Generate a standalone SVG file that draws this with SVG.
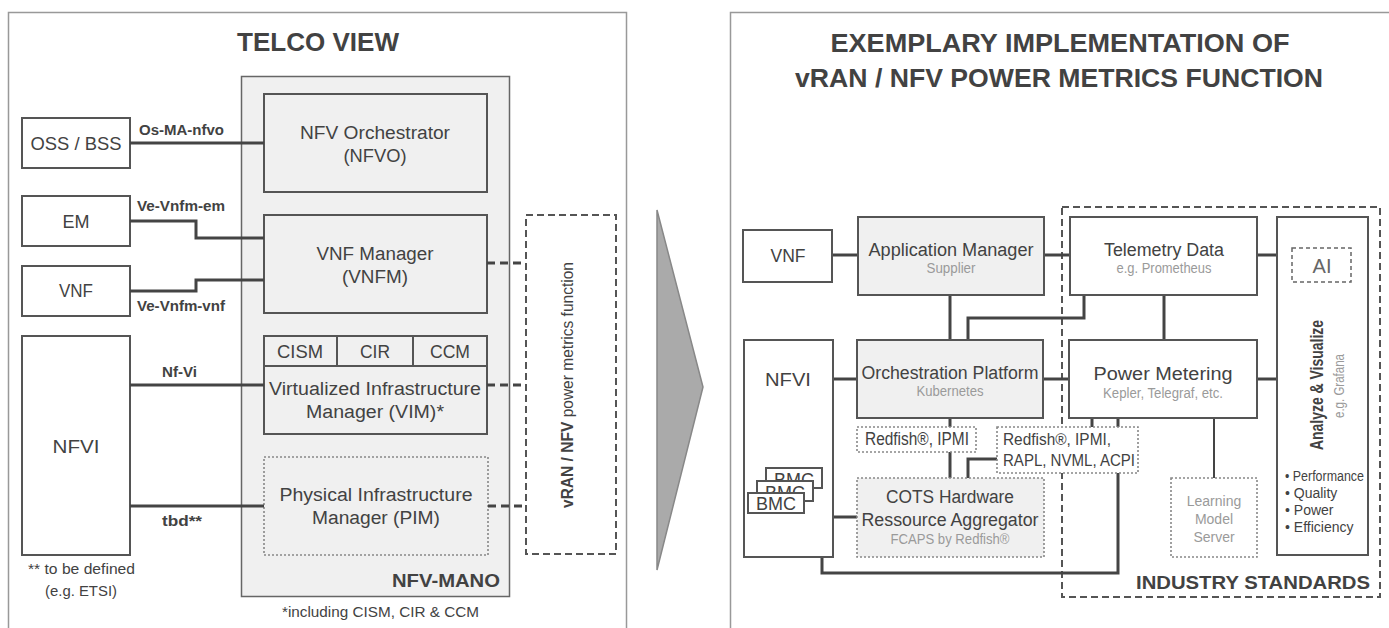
<svg xmlns="http://www.w3.org/2000/svg" width="1389" height="628" viewBox="0 0 1389 628">
<style>
text{font-family:"Liberation Sans","DejaVu Sans",sans-serif;fill:#424242}
.b{font-weight:bold}
.t{font-size:18px;text-anchor:middle}
.s{font-size:14px;text-anchor:middle;fill:#9a9a9a}
.lbl{font-size:14px;font-weight:bold}
.box{fill:#fff;stroke:#555;stroke-width:2}
.gbox{fill:#f0f0f0;stroke:#555;stroke-width:2}
.dot{fill:#fff;stroke:#888;stroke-width:1.6;stroke-dasharray:2 2}
.gdot{fill:#f0f0f0;stroke:#888;stroke-width:1.6;stroke-dasharray:2 2}
.dash{fill:none;stroke:#555;stroke-width:2;stroke-dasharray:7 4}
.panel{fill:#fff;stroke:#999;stroke-width:1.5}
.c{fill:none;stroke:#444;stroke-width:3}
.cd{fill:none;stroke:#444;stroke-width:3;stroke-dasharray:8 5}
.cs{fill:none;stroke:#444;stroke-width:2}
</style>
<defs>
<clipPath id="clipBack"><rect x="766" y="468" width="56" height="13"/></clipPath>
<clipPath id="clipMid"><rect x="757" y="481" width="56" height="12"/></clipPath>
</defs>
<rect width="1389" height="628" fill="#fff"/>
<!-- LEFT PANEL -->
<g id="left-panel">
<rect class="panel" x="8.5" y="12.5" width="618" height="640"/>
<text class="b" x="318" y="51" font-size="26" text-anchor="middle" textLength="162" lengthAdjust="spacingAndGlyphs">TELCO VIEW</text>
</g>
<g id="nfv-mano">
<rect x="241.5" y="76.5" width="268" height="520" fill="#f0f0f0" stroke="#666" stroke-width="1.5"/>
<text class="b" x="500" y="587" font-size="18" text-anchor="end" textLength="108" lengthAdjust="spacingAndGlyphs">NFV-MANO</text>
</g>
<g id="nfvo">
<rect class="gbox" x="264" y="94" width="223" height="98"/>
<text class="t" x="375" y="139" textLength="150" lengthAdjust="spacingAndGlyphs">NFV Orchestrator</text>
<text class="t" x="375" y="162" textLength="63" lengthAdjust="spacingAndGlyphs">(NFVO)</text>
</g>
<g id="vnfm">
<rect class="gbox" x="264" y="215" width="223" height="98"/>
<text class="t" x="375" y="260" textLength="117" lengthAdjust="spacingAndGlyphs">VNF Manager</text>
<text class="t" x="375" y="283" textLength="66" lengthAdjust="spacingAndGlyphs">(VNFM)</text>
</g>
<g id="vim">
<rect class="gbox" x="264" y="336" width="223" height="98"/>
<line x1="264" y1="366" x2="487" y2="366" stroke="#555" stroke-width="2"/>
<line x1="337" y1="336" x2="337" y2="366" stroke="#555" stroke-width="2"/>
<line x1="413" y1="336" x2="413" y2="366" stroke="#555" stroke-width="2"/>
<text class="t" x="300" y="358" textLength="46" lengthAdjust="spacingAndGlyphs">CISM</text>
<text class="t" x="375" y="358" textLength="30" lengthAdjust="spacingAndGlyphs">CIR</text>
<text class="t" x="450" y="358" textLength="40" lengthAdjust="spacingAndGlyphs">CCM</text>
<text class="t" x="375" y="395" textLength="212" lengthAdjust="spacingAndGlyphs">Virtualized Infrastructure</text>
<text class="t" x="375" y="418" textLength="138" lengthAdjust="spacingAndGlyphs">Manager (VIM)*</text>
</g>
<g id="pim">
<rect class="gdot" x="264" y="457" width="224" height="98"/>
<text class="t" x="376" y="501" textLength="193" lengthAdjust="spacingAndGlyphs">Physical Infrastructure</text>
<text class="t" x="376" y="524" textLength="128" lengthAdjust="spacingAndGlyphs">Manager (PIM)</text>
</g>
<g id="oss-bss">
<rect class="box" x="22" y="118" width="108" height="50"/>
<text class="t" x="76" y="150" textLength="91" lengthAdjust="spacingAndGlyphs">OSS / BSS</text>
</g>
<g id="em">
<rect class="box" x="22" y="196" width="108" height="50"/>
<text class="t" x="76" y="228" textLength="27" lengthAdjust="spacingAndGlyphs">EM</text>
</g>
<g id="vnf-left">
<rect class="box" x="22" y="266" width="108" height="50"/>
<text class="t" x="76" y="297" textLength="34" lengthAdjust="spacingAndGlyphs">VNF</text>
</g>
<g id="nfvi-left">
<rect class="box" x="22" y="336" width="108" height="219"/>
<text class="t" x="76" y="453" textLength="47" lengthAdjust="spacingAndGlyphs">NFVI</text>
</g>
<g id="power-metrics-function">
<rect class="dash" x="526" y="215" width="90" height="339"/>
<text transform="translate(573 385) rotate(-90)" font-size="17" text-anchor="middle" textLength="246" lengthAdjust="spacingAndGlyphs"><tspan class="b">vRAN / NFV</tspan> power metrics function</text>
</g>
<g id="left-notes">
<text x="28" y="574" font-size="14" textLength="107" lengthAdjust="spacingAndGlyphs">** to be defined</text>
<text x="45" y="596" font-size="14" textLength="72" lengthAdjust="spacingAndGlyphs">(e.g. ETSI)</text>
<text x="282" y="617" font-size="15" textLength="197" lengthAdjust="spacingAndGlyphs">*including CISM, CIR &amp; CCM</text>
</g>
<g id="left-connectors">
<path class="c" d="M130 143H264"/>
<path class="c" d="M130 221H196V238H264"/>
<path class="c" d="M130 291H196V280H264"/>
<path class="c" d="M130 385H264"/>
<path class="c" d="M130 506H264"/>
<path class="cd" d="M487 263H526"/>
<path class="cd" d="M487 385H526"/>
<path class="cd" d="M488 506H526"/>
<text class="lbl" x="139" y="135" textLength="85" lengthAdjust="spacingAndGlyphs">Os-MA-nfvo</text>
<text class="lbl" x="137" y="211" textLength="88" lengthAdjust="spacingAndGlyphs">Ve-Vnfm-em</text>
<text class="lbl" x="137" y="311" textLength="88" lengthAdjust="spacingAndGlyphs">Ve-Vnfm-vnf</text>
<text class="lbl" x="162" y="377" textLength="35" lengthAdjust="spacingAndGlyphs">Nf-Vi</text>
<text class="lbl" x="162" y="526" textLength="40" lengthAdjust="spacingAndGlyphs">tbd**</text>
</g>
<!-- ARROW -->
<g id="transition-arrow">
<polygon points="657,210 703,387 657,570" fill="#aaa" stroke="#888" stroke-width="1.5"/>
</g>
<!-- RIGHT PANEL -->
<g id="right-panel">
<rect class="panel" x="730.5" y="12.5" width="700" height="640"/>
<text class="b" x="1060" y="52" font-size="26" text-anchor="middle" textLength="459" lengthAdjust="spacingAndGlyphs">EXEMPLARY IMPLEMENTATION OF</text>
<text class="b" x="1059" y="87" font-size="26" text-anchor="middle" textLength="528" lengthAdjust="spacingAndGlyphs">vRAN / NFV POWER METRICS FUNCTION</text>
</g>
<g id="industry-standards">
<rect class="dash" x="1062" y="207" width="318" height="390"/>
<text class="b" x="1370" y="589" font-size="19" text-anchor="end" textLength="234" lengthAdjust="spacingAndGlyphs">INDUSTRY STANDARDS</text>
</g>
<g id="right-connectors">
<path class="c" d="M832 255H858"/>
<path class="c" d="M1044 255H1070"/>
<path class="c" d="M1257 255H1277"/>
<path class="c" d="M950 295V340"/>
<path class="c" d="M1084 295V318H968V340"/>
<path class="c" d="M1164 295V340"/>
<path class="c" d="M833 379H857"/>
<path class="c" d="M1043 379H1069"/>
<path class="c" d="M1257 379H1277"/>
<path class="c" d="M950 418V427M950 452V478"/>
<path class="c" d="M968 478V459H997"/>
<path class="c" d="M1092 418V427M1118 418V427"/>
<path class="c" d="M1118 473V573H822V486"/>
<path class="cs" d="M1214 418V478"/>
<path class="cs" d="M804 500L823 517M813 489L823 512"/>
<path class="c" d="M822 517H857"/>
</g>
<g id="vnf-right">
<rect class="box" x="743" y="230" width="89" height="52"/>
<text class="t" x="788" y="262" font-size="19" textLength="35" lengthAdjust="spacingAndGlyphs">VNF</text>
</g>
<g id="application-manager">
<rect class="gbox" x="858" y="217" width="186" height="78"/>
<text class="t" x="951" y="256" font-size="19" textLength="165" lengthAdjust="spacingAndGlyphs">Application Manager</text>
<text class="s" x="951" y="273" font-size="13" textLength="49" lengthAdjust="spacingAndGlyphs">Supplier</text>
</g>
<g id="telemetry-data">
<rect class="box" x="1070" y="217" width="187" height="78"/>
<text class="t" x="1164" y="256" font-size="19" textLength="120" lengthAdjust="spacingAndGlyphs">Telemetry Data</text>
<text class="s" x="1164" y="273" font-size="13" textLength="95" lengthAdjust="spacingAndGlyphs">e.g. Prometheus</text>
</g>
<g id="analyze-visualize">
<rect class="box" x="1277" y="217" width="91" height="338"/>
<rect x="1292" y="248" width="59" height="34" fill="#fff" stroke="#666" stroke-width="1.5" stroke-dasharray="4 3"/>
<text x="1322" y="273" font-size="20" text-anchor="middle" style="fill:#666">AI</text>
<text class="b" transform="translate(1323 385) rotate(-90)" font-size="19" text-anchor="middle" textLength="130" lengthAdjust="spacingAndGlyphs">Analyze &amp; Visualize</text>
<text transform="translate(1344 386) rotate(-90)" font-size="14" text-anchor="middle" style="fill:#9a9a9a" textLength="64" lengthAdjust="spacingAndGlyphs">e.g. Grafana</text>
<text x="1285" y="481" font-size="14" textLength="79" lengthAdjust="spacingAndGlyphs">• Performance</text>
<text x="1285" y="498" font-size="14">• Quality</text>
<text x="1285" y="515" font-size="14">• Power</text>
<text x="1285" y="532" font-size="14">• Efficiency</text>
</g>
<g id="nfvi-right">
<rect class="box" x="744" y="340" width="89" height="217"/>
<text class="t" x="788" y="386" font-size="20" textLength="46" lengthAdjust="spacingAndGlyphs">NFVI</text>
</g>
<g id="bmc">
<rect class="box" x="766" y="468" width="56" height="20" stroke-width="1.8"/>
<text class="t" x="794" y="486" font-size="17" clip-path="url(#clipBack)">BMC</text>
<rect class="box" x="757" y="481" width="56" height="20" stroke-width="1.8"/>
<text class="t" x="785" y="499" font-size="17" clip-path="url(#clipMid)">BMC</text>
<rect class="box" x="748" y="493" width="56" height="20" stroke-width="1.8"/>
<text class="t" x="776" y="510" font-size="17">BMC</text>
</g>
<g id="orchestration-platform">
<rect class="gbox" x="857" y="340" width="186" height="78"/>
<text class="t" x="950" y="379" font-size="19" textLength="177" lengthAdjust="spacingAndGlyphs">Orchestration Platform</text>
<text class="s" x="950" y="396" font-size="13" textLength="67" lengthAdjust="spacingAndGlyphs">Kubernetes</text>
</g>
<g id="power-metering">
<rect class="box" x="1069" y="340" width="188" height="78"/>
<text class="t" x="1163" y="380" font-size="21" textLength="139" lengthAdjust="spacingAndGlyphs">Power Metering</text>
<text class="s" x="1163" y="398" font-size="13" textLength="120" lengthAdjust="spacingAndGlyphs">Kepler, Telegraf, etc.</text>
</g>
<g id="redfish-ipmi">
<rect class="dot" x="857" y="427" width="119" height="25"/>
<text class="t" x="917" y="445" font-size="16" textLength="104" lengthAdjust="spacingAndGlyphs">Redfish®, IPMI</text>
</g>
<g id="redfish-rapl">
<rect class="dot" x="997" y="427" width="141" height="46"/>
<text x="1003" y="445" font-size="16" textLength="108" lengthAdjust="spacingAndGlyphs">Redfish®, IPMI,</text>
<text x="1003" y="466" font-size="16" textLength="132" lengthAdjust="spacingAndGlyphs">RAPL, NVML, ACPI</text>
</g>
<g id="cots-hardware">
<rect class="gdot" x="857" y="478" width="187" height="79"/>
<text class="t" x="950" y="503" font-size="19" textLength="128" lengthAdjust="spacingAndGlyphs">COTS Hardware</text>
<text class="t" x="950" y="526" font-size="19" textLength="177" lengthAdjust="spacingAndGlyphs">Ressource Aggregator</text>
<text class="s" x="950" y="544" textLength="119" lengthAdjust="spacingAndGlyphs">FCAPS by Redfish®</text>
</g>
<g id="learning-model-server">
<rect class="dot" x="1171" y="478" width="86" height="79"/>
<text class="s" x="1214" y="506">Learning</text>
<text class="s" x="1214" y="524">Model</text>
<text class="s" x="1214" y="542">Server</text>
</g>
</svg>
